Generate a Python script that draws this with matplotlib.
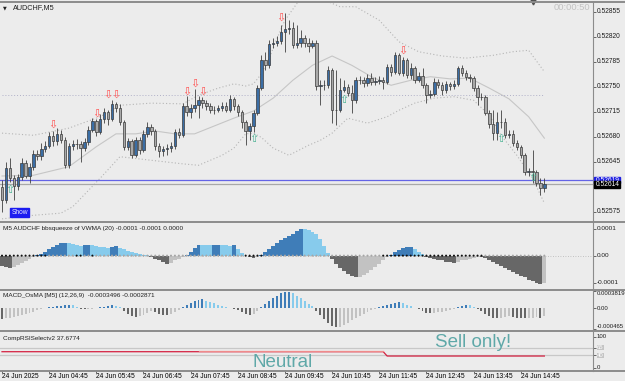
import numpy as np
import matplotlib
matplotlib.use("Agg")
import matplotlib.pyplot as plt
from matplotlib.lines import Line2D
from matplotlib.patches import Rectangle

# AUDCHF M5, 24 Jun 2025
first_open = 0.52609
closes = [
    0.52591, 0.52636, 0.52622, 0.52611, 0.52624, 0.52643, 0.52625, 0.52637, 0.52656, 0.52653,
    0.52663, 0.52667, 0.52681, 0.52674, 0.52684, 0.52675, 0.52640, 0.52667, 0.52670, 0.52670,
    0.52664, 0.52673, 0.52689, 0.52702, 0.52687, 0.52705, 0.52715, 0.52705, 0.52726, 0.52720,
    0.52701, 0.52666, 0.52674, 0.52654, 0.52675, 0.52661, 0.52684, 0.52694, 0.52688, 0.52667,
    0.52660, 0.52663, 0.52664, 0.52667, 0.52687, 0.52682, 0.52723, 0.52715, 0.52720, 0.52724,
    0.52731, 0.52727, 0.52723, 0.52717, 0.52718, 0.52720, 0.52723, 0.52718, 0.52733, 0.52723,
    0.52715, 0.52701, 0.52688, 0.52695, 0.52713, 0.52748, 0.52787, 0.52780, 0.52810, 0.52811,
    0.52814, 0.52827, 0.52831, 0.52832, 0.52808, 0.52811, 0.52818, 0.52811, 0.52807, 0.52811,
    0.52751, 0.52752, 0.52752, 0.52773, 0.52717, 0.52718, 0.52745, 0.52750, 0.52741, 0.52731,
    0.52759, 0.52759, 0.52755, 0.52762, 0.52757, 0.52758, 0.52759, 0.52757, 0.52777, 0.52771,
    0.52794, 0.52769, 0.52787, 0.52766, 0.52776, 0.52759, 0.52765, 0.52752, 0.52738, 0.52740,
    0.52757, 0.52752, 0.52745, 0.52754, 0.52751, 0.52754, 0.52776, 0.52769, 0.52764, 0.52762,
    0.52748, 0.52736, 0.52736, 0.52713, 0.52698, 0.52685, 0.52701, 0.52701, 0.52682, 0.52684,
    0.52671, 0.52666, 0.52654, 0.52630, 0.52632, 0.52630, 0.52615, 0.52608, 0.52614,
]
highs = [
    0.52619, 0.52645, 0.52650, 0.52626, 0.52628, 0.52650, 0.52647, 0.52643, 0.52661, 0.52661,
    0.52671, 0.52674, 0.52687, 0.52688, 0.52692, 0.52689, 0.52679, 0.52671, 0.52675, 0.52677,
    0.52674, 0.52678, 0.52695, 0.52706, 0.52705, 0.52712, 0.52720, 0.52717, 0.52731, 0.52729,
    0.52726, 0.52703, 0.52678, 0.52677, 0.52679, 0.52679, 0.52689, 0.52701, 0.52698, 0.52691,
    0.52671, 0.52667, 0.52670, 0.52673, 0.52691, 0.52692, 0.52727, 0.52737, 0.52726, 0.52747,
    0.52737, 0.52736, 0.52731, 0.52727, 0.52723, 0.52724, 0.52729, 0.52729, 0.52738, 0.52736,
    0.52726, 0.52717, 0.52703, 0.52699, 0.52717, 0.52752, 0.52794, 0.52799, 0.52815, 0.52818,
    0.52821, 0.52836, 0.52853, 0.52843, 0.52841, 0.52836, 0.52829, 0.52822, 0.52818, 0.52815,
    0.52815, 0.52759, 0.52759, 0.52779, 0.52776, 0.52773, 0.52762, 0.52759, 0.52754, 0.52752,
    0.52764, 0.52765, 0.52764, 0.52768, 0.52769, 0.52764, 0.52765, 0.52764, 0.52782, 0.52782,
    0.52799, 0.52797, 0.52792, 0.52790, 0.52783, 0.52779, 0.52771, 0.52776, 0.52755, 0.52745,
    0.52762, 0.52761, 0.52757, 0.52758, 0.52757, 0.52759, 0.52779, 0.52780, 0.52773, 0.52768,
    0.52765, 0.52752, 0.52741, 0.52738, 0.52717, 0.52717, 0.52715, 0.52717, 0.52706, 0.52689,
    0.52689, 0.52675, 0.52668, 0.52657, 0.52636, 0.52661, 0.52633, 0.52622, 0.52622,
]
lows = [
    0.52575, 0.52587, 0.52617, 0.52591, 0.52605, 0.52619, 0.52622, 0.52615, 0.52633, 0.52647,
    0.52647, 0.52659, 0.52664, 0.52667, 0.52668, 0.52671, 0.52636, 0.52636, 0.52661, 0.52663,
    0.52645, 0.52660, 0.52668, 0.52687, 0.52681, 0.52684, 0.52699, 0.52696, 0.52702, 0.52715,
    0.52696, 0.52661, 0.52661, 0.52650, 0.52652, 0.52656, 0.52659, 0.52679, 0.52682, 0.52661,
    0.52652, 0.52653, 0.52654, 0.52659, 0.52663, 0.52678, 0.52679, 0.52709, 0.52706, 0.52715,
    0.52706, 0.52720, 0.52717, 0.52713, 0.52712, 0.52715, 0.52716, 0.52715, 0.52715, 0.52717,
    0.52709, 0.52692, 0.52668, 0.52675, 0.52687, 0.52710, 0.52745, 0.52773, 0.52776, 0.52804,
    0.52807, 0.52810, 0.52799, 0.52824, 0.52804, 0.52804, 0.52806, 0.52806, 0.52799, 0.52804,
    0.52745, 0.52724, 0.52745, 0.52748, 0.52699, 0.52696, 0.52715, 0.52743, 0.52737, 0.52713,
    0.52727, 0.52754, 0.52750, 0.52751, 0.52752, 0.52752, 0.52754, 0.52747, 0.52754, 0.52765,
    0.52768, 0.52766, 0.52765, 0.52762, 0.52761, 0.52755, 0.52757, 0.52748, 0.52727, 0.52734,
    0.52737, 0.52748, 0.52738, 0.52741, 0.52745, 0.52747, 0.52751, 0.52765, 0.52759, 0.52757,
    0.52744, 0.52724, 0.52731, 0.52710, 0.52692, 0.52675, 0.52675, 0.52692, 0.52678, 0.52678,
    0.52667, 0.52661, 0.52650, 0.52626, 0.52625, 0.52615, 0.52611, 0.52598, 0.52603,
]

# signal arrows
sell_idx = [13, 24, 27, 29, 47, 49, 51, 71, 102]
sell_px = [0.52697, 0.52712, 0.52738, 0.52739, 0.52743, 0.52754, 0.52743, 0.52847, 0.52800]
buy_idx = [2, 64, 87, 127, 135]
buy_px = [0.52606, 0.52677, 0.52731, 0.52677, 0.52622]

# bands (middle solid, outer dotted)
mid_idx = [0, 8, 17, 24, 29, 34, 39, 44, 49, 54, 59, 64, 69, 74, 79, 84, 89, 94, 99,
           104, 109, 114, 119, 124, 129, 134, 138]
mid_px = [0.52625, 0.52626, 0.52638, 0.52666, 0.52684, 0.52684, 0.52688, 0.52684, 0.52684,
          0.52695, 0.52706, 0.52716, 0.52734, 0.52759, 0.52780, 0.52793, 0.52780, 0.52764,
          0.52752, 0.52759, 0.52764, 0.52761, 0.52762, 0.52748, 0.52733, 0.52708, 0.52678]
up_idx = [0, 8, 17, 25, 30, 38, 46, 50, 55, 59, 62, 64, 66, 68, 70, 72, 76, 80, 83, 86,
          90, 96, 101, 106, 112, 118, 125, 130, 134, 138]
up_px = [0.52685, 0.52682, 0.52692, 0.52708, 0.52724, 0.52727, 0.52726, 0.52738, 0.52748,
         0.52754, 0.52751, 0.52754, 0.52768, 0.52790, 0.52818, 0.52843, 0.52874, 0.52880,
         0.52869, 0.52862, 0.52862, 0.52843, 0.52813, 0.52799, 0.52793, 0.52790, 0.52794,
         0.52799, 0.52801, 0.52771]
lo_idx = [0, 8, 15, 18, 25, 30, 38, 46, 50, 56, 59, 62, 64, 66, 69, 73, 78, 81, 84, 88,
          93, 98, 101, 105, 110, 115, 120, 124, 127, 131, 135, 138]
lo_px = [0.52565, 0.52570, 0.52573, 0.52582, 0.52622, 0.52652, 0.52647, 0.52642, 0.52640,
         0.52654, 0.52664, 0.52684, 0.52685, 0.52679, 0.52664, 0.52654, 0.52668, 0.52675,
         0.52685, 0.52706, 0.52699, 0.52708, 0.52717, 0.52727, 0.52734, 0.52736, 0.52731,
         0.52710, 0.52682, 0.52654, 0.52622, 0.52587]
day_open = 0.52738
bid = 0.52614
ask = 0.52619
price_ticks = [0.52855, 0.52820, 0.52785, 0.52750, 0.52715, 0.52680, 0.52645, 0.52610, 0.52575]

# bbsqueeze histogram (x1e-6)
bbs_e6 = [
    -37, -41, -44, -41, -33, -26, -19, -11, -4, 2,
    7, 15, 26, 33, 41, 46, 48, 46, 44, 41,
    37, 39, 41, 39, 37, 33, 31, 30, 33, 37,
    30, 24, 18, 15, 11, 7, 4, 2, -4, -11,
    -18, -24, -30, -26, -18, -11, -4, 4, 15, 28,
    41, 40, 39, 38, 40, 41, 40, 39, 37, 38,
    26, 11, -2, -6, -7, -4, 4, 15, 26, 37,
    48, 57, 67, 74, 81, 92, 100, 98, 94, 89,
    81, 63, 37, 11, -11, -30, -44, -56, -67, -74,
    -81, -78, -70, -63, -52, -41, -30, -15, -4, 4,
    15, 22, 28, 31, 33, 26, 15, 6, -4, -7,
    -11, -15, -18, -22, -24, -26, -22, -18, -15, -11,
    -7, -4, -6, -9, -15, -22, -30, -37, -44, -52,
    -59, -67, -74, -81, -89, -94, -100, -104, -102,
]
squeeze_on = list(range(0, 12)) + [19, 20, 23] + list(range(62, 67)) + list(range(97, 123))

# MACD OsMA histogram (x1e-5)
macd_e5 = [
    -24, -22, -21, -20, -17, -15, -13, -11, -8, -4,
    -2, 1, 2, 3, 4, 5, 7, 8, 7, 2,
    -1, -2, -1.5, -1, 1, 2, 3, 5, 7, 5,
    2, -7, -13, -17, -20, -17, -15, -11, -7, -9,
    -12, -15, -16, -14, -9, -4, 2, 7, 11, 15,
    18, 20, 17, 14, 11, 8, 4, 2, 1, -1,
    -4, -9, -13, -15, -13, -7, 2, 9, 15, 22,
    28, 33, 35, 36, 33, 28, 22, 15, 9, 4,
    -7, -15, -24, -33, -39, -43, -41, -37, -33, -26,
    -22, -17, -13, -9, -4, -1, 2, 4, 7, 9,
    11, 13, 11, 8, 4, 1, -3, -7, -10, -11,
    -10, -9, -8, -7, -4, -2, 2, 5, 8, 7,
    3, -2, -7, -12, -17, -22, -23, -21, -20, -18,
    -20, -21, -22, -23, -22, -21, -20, -21, -18,
]

# CompRSISelect line
rsi_idx = [0, 97, 98, 138]
rsi_val = [51.6, 51.6, 37.7, 37.7]
rsi_pink_idx = [50, 97]
rsi_pink_val = [54.5, 54.5]
rsi_levels = [65, 40]

time_idx = [0, 12, 24, 36, 48, 60, 72, 84, 96, 108, 120, 132]
time_lbl = ["24 Jun 2025", "24 Jun 04:45", "24 Jun 05:45", "24 Jun 06:45", "24 Jun 07:45",
            "24 Jun 08:45", "24 Jun 09:45", "24 Jun 10:45", "24 Jun 11:45", "24 Jun 12:45",
            "24 Jun 13:45", "24 Jun 14:45"]

# ---------------------------------------------------------------
W, H = 625, 381
BG = '#ececec'
FONT = 'Liberation Sans'
fig = plt.figure(figsize=(W / 100, H / 100), dpi=100)
fig.patch.set_facecolor(BG)


def fx(px):
    return px / W


def fy(py):
    return 1 - py / H


def px_axes(y0, y1, x0=0, x1=593):
    ax = fig.add_axes([fx(x0), fy(y1), (x1 - x0) / W, (y1 - y0) / H])
    ax.set_facecolor(BG)
    for s in ax.spines.values():
        s.set_visible(False)
    ax.set_xlim(-0.51, 150.38)
    ax.tick_params(axis='x', bottom=False, labelbottom=False)
    ax.yaxis.tick_right()
    ax.tick_params(axis='y', length=2.5, width=0.6, color='#505050', labelright=False)
    return ax


def right_label(ax, y, s, va='center', size=5):
    ax.text(1 + 4 / 593, y, s, transform=ax.get_yaxis_transform(), fontsize=size, va=va,
            ha='left', color='#1e1e1e', family=FONT, clip_on=False)


x = np.arange(len(closes))
c = np.array(closes)
o = np.r_[first_open, c[:-1]]

# ---- main price window ----
ax = px_axes(3, 221)
ax.set_ylim(0.528714 - 0.000014 * 221, 0.528714 - 0.000014 * 3)
ax.plot(mid_idx, mid_px, color='#c6c6c6', lw=0.8, zorder=1)
ax.plot(up_idx, up_px, color='#b5b5b5', lw=0.8, ls=(0, (1, 2)), zorder=1)
ax.plot(lo_idx, lo_px, color='#b5b5b5', lw=0.8, ls=(0, (1, 2)), zorder=1)
ax.hlines(day_open, 0, len(c) - 1, color='#b0b0c8', lw=0.7, ls=(0, (1, 2)), zorder=1)
ax.axhline(ask, color='#6464e6', lw=0.9, zorder=1)
ax.axhline(bid, color='#a8a8a8', lw=0.9, zorder=1)
ax.vlines(x, lows, highs, color='#404040', lw=0.6, zorder=2)
up = c >= o
ax.bar(x, c - o, bottom=o, width=0.62, color=np.where(up, '#3b6ea5', '#a9a9a9'),
       edgecolor='#3a3a3a', linewidth=0.5, zorder=3)
for i, p in zip(sell_idx, sell_px):
    ax.text(i, p, '\u21e9', color='#ff5050', fontsize=8, ha='center', va='center',
            family='DejaVu Sans', zorder=4)
for i, p in zip(buy_idx, buy_px):
    ax.text(i, p, '\u21e7', color='#44b090', fontsize=8, ha='center', va='center',
            family='DejaVu Sans', zorder=4)
ax.set_yticks(price_ticks)
for p in price_ticks:
    right_label(ax, p, f'{p:.5f}', size=4.8)

# price boxes on the scale
fig.add_artist(Rectangle((fx(594), fy(183.5)), 26 / W, 6.5 / H, transform=fig.transFigure,
                         color='#2020e0', zorder=5))
fig.text(fx(596), fy(180), f'{ask:.5f}', fontsize=4.8, color='white', va='center',
         family=FONT, zorder=6)
fig.add_artist(Rectangle((fx(594), fy(188)), 26 / W, 6.5 / H, transform=fig.transFigure,
                         color='black', zorder=7))
fig.text(fx(596), fy(184.7), f'{bid:.5f}', fontsize=4.8, color='white', va='center',
         family=FONT, zorder=8)

# header texts
fig.text(fx(3), fy(8), '\u25bc', fontsize=3.5, va='center', color='#202020')
fig.text(fx(13), fy(8), 'AUDCHF,M5', fontsize=5.2, va='center', color='#202020', family=FONT)
fig.text(fx(554), fy(8), '00:00:50', fontsize=6.7, va='center', color='#c2c2c2', family=FONT)
fig.add_artist(Line2D([fx(533)], [fy(2)], marker='v', markersize=3.5, color='#505050',
                      transform=fig.transFigure))
fig.add_artist(Rectangle((fx(10), fy(217)), 19 / W, 9 / H, transform=fig.transFigure,
                         color='#1c1cf0'))
fig.text(fx(19.5), fy(212.5), 'Show', fontsize=4.8, ha='center', va='center',
         color='#e8e8ff', family=FONT)

# ---- bbsqueeze window ----
ax2 = px_axes(223, 288)
ax2.set_ylim(-0.000120, 0.000121)
bbs = np.array(bbs_e6) * 1e-6
prev = np.r_[bbs[0], bbs[:-1]]
cols = np.where(bbs >= 0, np.where(bbs >= prev, '#3f7db8', '#87cbec'),
                np.where(bbs <= prev, '#676767', '#c2c2c2'))
ax2.bar(x, bbs, width=1.0, color=cols, linewidth=0, zorder=2)
ax2.axhline(0, color='#b4b4b4', lw=0.6, ls=(0, (1, 2)), zorder=1)
dot_col = np.where(np.isin(x, squeeze_on), '#101010', '#a6a6a6')
ax2.scatter(x, np.zeros_like(bbs), s=2.2, c=dot_col, linewidths=0, zorder=3)
ax2.set_yticks([0.0001, 0, -0.0001])
right_label(ax2, 0.0001, '0.0001', size=4.6)
right_label(ax2, 0, '0.00', size=4.6)
right_label(ax2, -0.0001, '-0.0001', size=4.6)
ax2.text(3 / 593, 0.92, 'M5 AUDCHF bbsqueeze of VWMA (20) -0.0001 -0.0001 0.0000',
         transform=ax2.transAxes, fontsize=4.6, va='center', color='#202020', family=FONT)

# ---- MACD OsMA window ----
ax3 = px_axes(291, 329)
ax3.set_ylim(-0.000465, 0.0003819)
mh = np.array(macd_e5) * 1e-5
prev = np.r_[mh[0], mh[:-1]]
cols = np.where(mh >= 0, np.where(mh >= prev, '#3f7db8', '#87cbec'),
                np.where(mh <= prev, '#676767', '#c2c2c2'))
ax3.bar(x, mh, width=0.5, color=cols, linewidth=0)
ax3.set_yticks([0.0003819, 0, -0.000465])
right_label(ax3, 0.0003819, '0.0003819', va='top', size=4.3)
right_label(ax3, 0, '0.00', size=4.3)
right_label(ax3, -0.000465, '-0.000465', va='bottom', size=4.3)
ax3.text(3 / 593, 0.88, 'MACD_OsMA [M5] (12,26,9)  -0.0003496 -0.0002871',
         transform=ax3.transAxes, fontsize=4.6, va='center', color='#202020', family=FONT)

# ---- CompRSISelect window ----
ax4 = px_axes(332, 370)
ax4.set_ylim(-7.4, 115.2)
for lv in rsi_levels:
    ax4.axhline(lv, color='#c8c8c8', lw=0.9, zorder=1)
ax4.plot(rsi_idx, rsi_val, color='#d42040', lw=0.9, zorder=2)
ax4.plot(rsi_pink_idx, rsi_pink_val, color='#f08a8a', lw=0.9, zorder=2)
ax4.set_yticks([100] + rsi_levels + [0])
right_label(ax4, 100, '100', size=4.3)
right_label(ax4, 0, '0', size=4.3)
for lv in rsi_levels:
    ax4.text(1 + 4 / 593, lv, str(lv), transform=ax4.get_yaxis_transform(), fontsize=4.3,
             va='center', ha='left', color='white', family=FONT, clip_on=False,
             bbox=dict(boxstyle='square,pad=0.05', fc='#c4c4c4', ec='none'))
ax4.text(3 / 593, 0.84, 'CompRSISelectv2 37.6774', transform=ax4.transAxes, fontsize=4.6,
         va='center', color='#202020', family=FONT)
ax4.text(252 / 593, -0.02, 'Neutral', transform=ax4.transAxes, fontsize=13.5, va='bottom',
         color='#5fa8a8', family=FONT, clip_on=True)
ax4.text(435 / 593, 0.72, 'Sell only!', transform=ax4.transAxes, fontsize=13.5,
         va='center', color='#5fa8a8', family=FONT)
ax4.set_xticks(time_idx)
ax4.set_xticklabels(time_lbl, ha='left')
ax4.tick_params(axis='x', bottom=True, labelbottom=True, length=2, width=0.6,
                color='#505050', labelsize=4.8, pad=0.5)
for t in ax4.get_xticklabels():
    t.set_family(FONT)

# window separators and price scale line
for yy in [1.5, 222, 289.5, 330.5, 371]:
    fig.add_artist(Line2D([0, 1], [fy(yy), fy(yy)], color='#8c8c8c', lw=1.4,
                          transform=fig.transFigure))
fig.add_artist(Line2D([fx(593), fx(593)], [fy(1.5), fy(371)], color='#8c8c8c', lw=0.8,
                      transform=fig.transFigure))

fig.savefig('out.png', dpi=100, facecolor=BG)
